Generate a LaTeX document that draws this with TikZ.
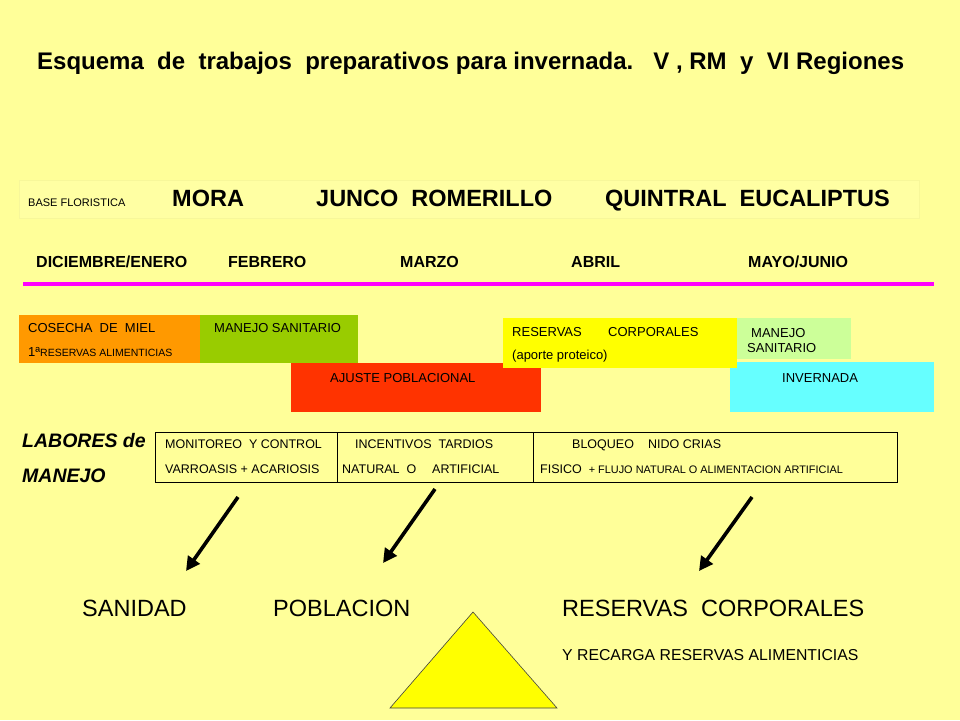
\documentclass[tikz,border=0pt]{standalone}
\usepackage{fontspec}
\setmainfont{Liberation Sans}
\usetikzlibrary{arrows.meta}
\definecolor{bgyellow}{HTML}{FFFF99}
\definecolor{basefill}{HTML}{FFFFA3}
\definecolor{baseline}{HTML}{F7F79A}
\definecolor{cOrange}{HTML}{FF9900}
\definecolor{cGreen}{HTML}{99CC00}
\definecolor{cRed}{HTML}{FF3300}
\definecolor{cYellow}{HTML}{FFFF00}
\definecolor{cLight}{HTML}{CCFF99}
\definecolor{cCyan}{HTML}{66FFFF}
\definecolor{cMagenta}{HTML}{FF00FF}
\begin{document}
\begin{tikzpicture}[x=1pt,y=-1pt,
  tx/.style={anchor=base west,inner sep=0pt,text=black},
  fs/.style={font=\fontsize{#1}{#1}\selectfont},
  fsb/.style={font=\fontsize{#1}{#1}\selectfont\bfseries},
  fsbi/.style={font=\fontsize{#1}{#1}\selectfont\bfseries\itshape},
  barbox/.style={anchor=north west,inner sep=0pt,outer sep=0pt,draw=none},
  bigarrow/.style={line width=3.6pt,-{Triangle[length=14pt,width=14pt]}}]
\fill[bgyellow] (0,0) rectangle (960,720);
\useasboundingbox (0,0) rectangle (960,720);
% title
\node[tx,fsb=24] (title) at (37,69) {Esquema\ \ de\ \ trabajos\ \ preparativos para invernada.\ \ \ V , RM\ \ y\ \ VI Regiones};
% base floristica
\node[barbox,draw=baseline,fill=basefill,minimum width=900,minimum height=38] (basebox) at (19,180) {};
\node[tx,fs=11] (bf) at (28,206) {BASE FLORISTICA};
\node[tx,fsb=23.5] (mora) at (172,206) {MORA};
\node[tx,fsb=23.5] (junco) at (316,206) {JUNCO\ \ ROMERILLO};
\node[tx,fsb=23.5] (quintral) at (605,206) {QUINTRAL\ \ EUCALIPTUS};
% months
\node[tx,fsb=16] (m1) at (36,267) {DICIEMBRE/ENERO};
\node[tx,fsb=16] (m2) at (228,267) {FEBRERO};
\node[tx,fsb=16] (m3) at (400,267) {MARZO};
\node[tx,fsb=16] (m4) at (571,267) {ABRIL};
\node[tx,fsb=16] (m5) at (748,267) {MAYO/JUNIO};
\coordinate (ml) at (23,284);
\coordinate (mr) at (934,284);
\draw[cMagenta,line width=4pt] (ml) -- (mr);
% bars
\node[barbox,fill=cOrange,minimum width=181,minimum height=48] (orange) at (19,315) {};
\node[barbox,fill=cGreen,minimum width=158,minimum height=48] (green) at (200,315) {};
\node[barbox,fill=cRed,minimum width=250,minimum height=49] (red) at (291,363) {};
\node[barbox,fill=cCyan,minimum width=204,minimum height=50] (cyan) at (730,362) {};
\node[barbox,fill=cLight,minimum width=114,minimum height=41] (light) at (737,318) {};
\node[barbox,fill=cYellow,minimum width=234,minimum height=50] (yellowbar) at (503,318) {};
\node[tx,fs=13] (t1) at (28,332) {COSECHA\ \ DE\ \ MIEL};
\node[tx,fs=13] (t2) at (28,356) {1ª{\fontsize{10.5}{10.5}\selectfont RESERVAS ALIMENTICIAS}};
\node[tx,fs=13] (t3) at (214,332) {MANEJO SANITARIO};
\node[tx,fs=13] (t4) at (330,382) {AJUSTE POBLACIONAL};
\node[tx,fs=13] (t5) at (512,336) {RESERVAS};
\node[tx,fs=13] (t6) at (608,336) {CORPORALES};
\node[tx,fs=13] (t7) at (512,359) {(aporte proteico)};
\node[tx,fs=13] (t8) at (751,337) {MANEJO};
\node[tx,fs=13] (t9) at (747,352) {SANITARIO};
\node[tx,fs=13] (t10) at (782,382) {INVERNADA};
% labores
\node[tx,fsbi=19.5] (lab1) at (22,447) {LABORES de};
\node[tx,fsbi=19.5] (lab2) at (22,482) {MANEJO};
\node[barbox,draw=black,line width=1pt,minimum width=742,minimum height=50] (table) at (155,432) {};
\coordinate (d1t) at (337,432); \coordinate (d1b) at (337,482);
\coordinate (d2t) at (533,432); \coordinate (d2b) at (533,482);
\draw[line width=1pt] (d1t) -- (d1b);
\draw[line width=1pt] (d2t) -- (d2b);
\node[tx,fs=12.5] (r1a) at (165,448) {MONITOREO\ \ Y CONTROL};
\node[tx,fs=12.5] (r2a) at (165,473) {VARROASIS + ACARIOSIS};
\node[tx,fs=12.5] (r1b) at (355,448) {INCENTIVOS\ \ TARDIOS};
\node[tx,fs=12.5] (r2b) at (342,473) {NATURAL\ \ O};
\node[tx,fs=12.5] (r2c) at (432,473) {ARTIFICIAL};
\node[tx,fs=12.5] (r1c) at (572,448) {BLOQUEO};
\node[tx,fs=12.5] (r1d) at (648,448) {NIDO\ CRIAS};
\node[tx,fs=12.5] (r2d) at (540,473) {FISICO\ \ {\fontsize{10.9}{10.9}\selectfont + FLUJO NATURAL O ALIMENTACION ARTIFICIAL}};
% arrows
\coordinate (a1s) at (238,497); \coordinate (a1e) at (186,571);
\coordinate (a2s) at (435,489); \coordinate (a2e) at (383,563);
\coordinate (a3s) at (752,497); \coordinate (a3e) at (699,571);
\draw[bigarrow] (a1s) -- (a1e);
\draw[bigarrow] (a2s) -- (a2e);
\draw[bigarrow] (a3s) -- (a3e);
% bottom
\node[tx,fs=23.5] (san) at (82,616) {SANIDAD};
\node[tx,fs=23.5] (pob) at (273,616) {POBLACION};
\node[tx,fs=23.5] (res) at (562,616) {RESERVAS\ \ CORPORALES};
\node[tx,fs=15.8] (rec) at (562,660) {Y RECARGA RESERVAS ALIMENTICIAS};
\coordinate (tA) at (473,612);
\coordinate (tB) at (557,708);
\coordinate (tC) at (390,708);
\draw[fill=cYellow,draw=black!75,line width=0.6pt] (tA) -- (tB) -- (tC) -- cycle;
\end{tikzpicture}
\end{document}
